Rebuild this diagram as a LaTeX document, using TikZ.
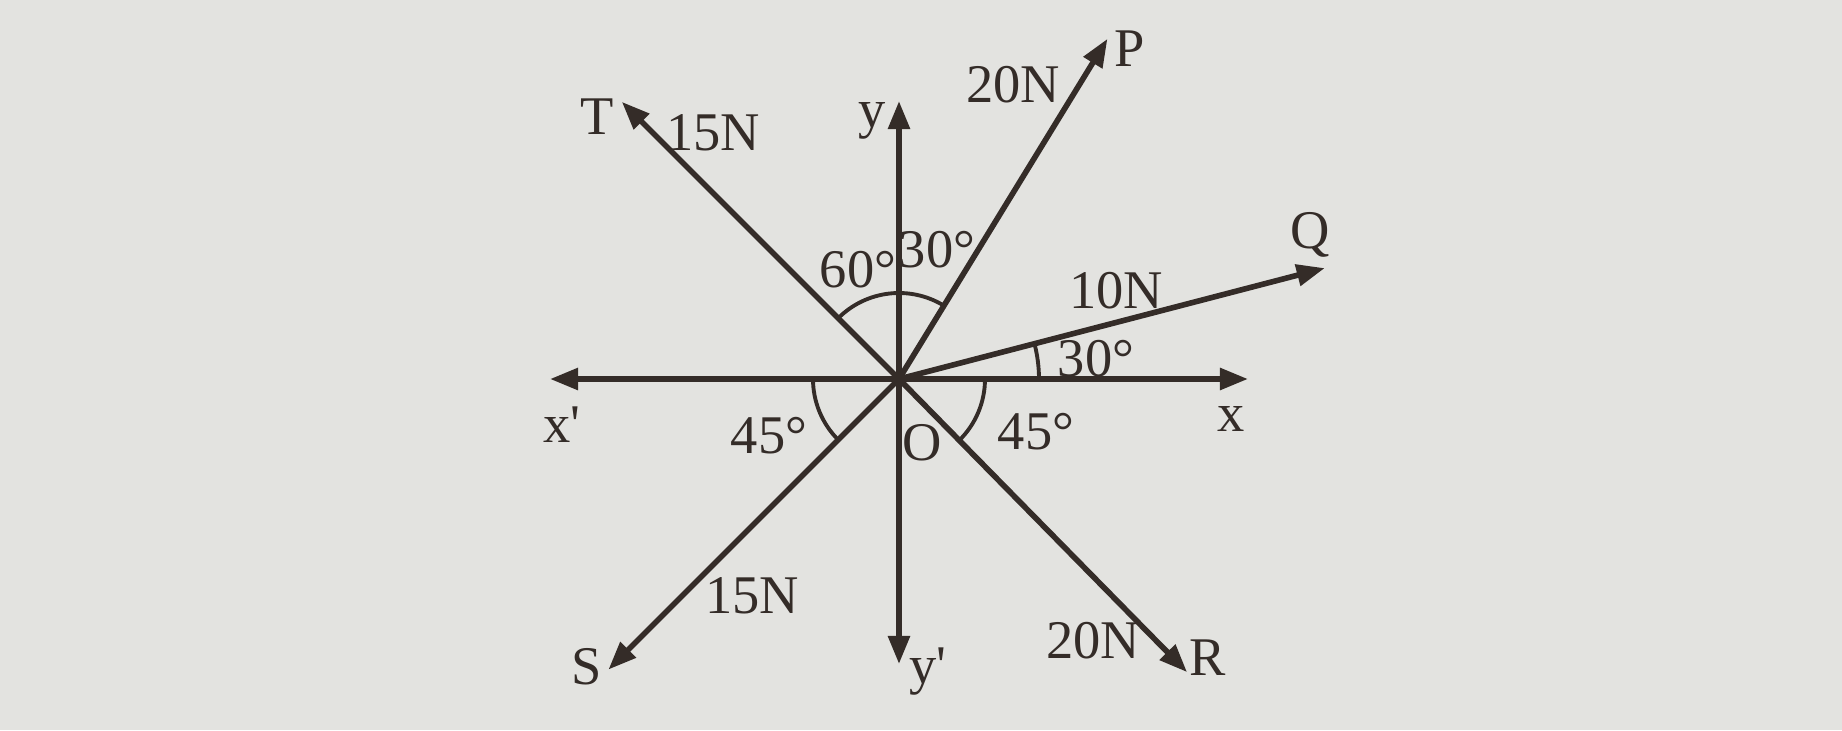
\documentclass[tikz,border=0pt]{standalone}
\usepackage{fontspec}
\setmainfont{Liberation Serif}
\usetikzlibrary{arrows.meta}
\definecolor{ink}{RGB}{52,44,40}
\definecolor{paper}{RGB}{227,227,224}

\begin{document}
\begin{tikzpicture}[
    vec/.style={line width=1.6pt, ink, -{Triangle[length=8pt,width=6pt]}},
    angarc/.style={line width=1.1pt, ink},
    lbl/.style={ink, font=\fontsize{15.5}{18}\selectfont, inner sep=1pt}
  ]
    \def \rarc {.86}
    % paper and frame
    \fill[paper] (-8.99,-3.51) rectangle (9.43,3.79);
    \useasboundingbox (-8.99,-3.51) rectangle (9.43,3.79);
    \coordinate (O) at (0,0);
    % axes
    \coordinate (X) at (3.49,0);
    \coordinate (Xp) at (-3.49,0);
    \coordinate (Y) at (0,2.78);
    \coordinate (Yp) at (0,-2.85);
    \foreach \t in {X,Xp,Y,Yp}
      \draw[vec] (O) -- (\t);
    % forces
    \foreach \name/\ang/\len in {P/58.5/3.99, Q/14.6/4.40, T/135/3.92, S/225/4.11, R/-45.5/4.11}
    {
      \coordinate (\name) at (\ang:\len);
      \draw[vec] (O) -- (\name);
    }
    \fill[ink] (O) circle (.07);
    % angle marks
    \draw[angarc] (O) ++(135:\rarc) arc[start angle=135, end angle=58.5, radius=\rarc];
    \draw[angarc] (O) ++(0:1.4) arc[start angle=0, end angle=14.6, radius=1.4];
    \draw[angarc] (O) ++(0:\rarc) arc[start angle=0, end angle=-45.5, radius=\rarc];
    \draw[angarc] (O) ++(180:\rarc) arc[start angle=180, end angle=225, radius=\rarc];
    % labels
    \node[lbl] (lO) at (0.23,-0.64) {O};
    \node[lbl] (lx) at (3.32,-0.40) {x};
    \node[lbl] (lxp) at (-3.37,-0.46) {x\textquotesingle};
    \node[lbl] (ly) at (-0.27,2.58) {y};
    \node[lbl] (lyp) at (0.29,-2.93) {y\textquotesingle};
    \node[lbl] (lP) at (2.31,3.30) {P};
    \node[lbl] (lQ) at (4.11,1.44) {Q};
    \node[lbl] (lT) at (-3.02,2.62) {T};
    \node[lbl] (lS) at (-3.12,-2.88) {S};
    \node[lbl] (lR) at (3.09,-2.79) {R};
    \node[lbl] (fP) at (1.14,2.94) {20N};
    \node[lbl] (fQ) at (2.17,0.88) {10N};
    \node[lbl] (fT) at (-1.86,2.46) {15N};
    \node[lbl] (fS) at (-1.47,-2.17) {15N};
    \node[lbl] (fR) at (1.94,-2.62) {20N};
    \node[lbl] (aT) at (-0.41,1.09) {60°};
    \node[lbl] (aP) at (0.38,1.29) {30°};
    \node[lbl] (aQ) at (1.97,0.20) {30°};
    \node[lbl] (aS) at (-1.30,-0.57) {45°};
    \node[lbl] (aR) at (1.37,-0.53) {45°};
\end{tikzpicture}
\end{document}
